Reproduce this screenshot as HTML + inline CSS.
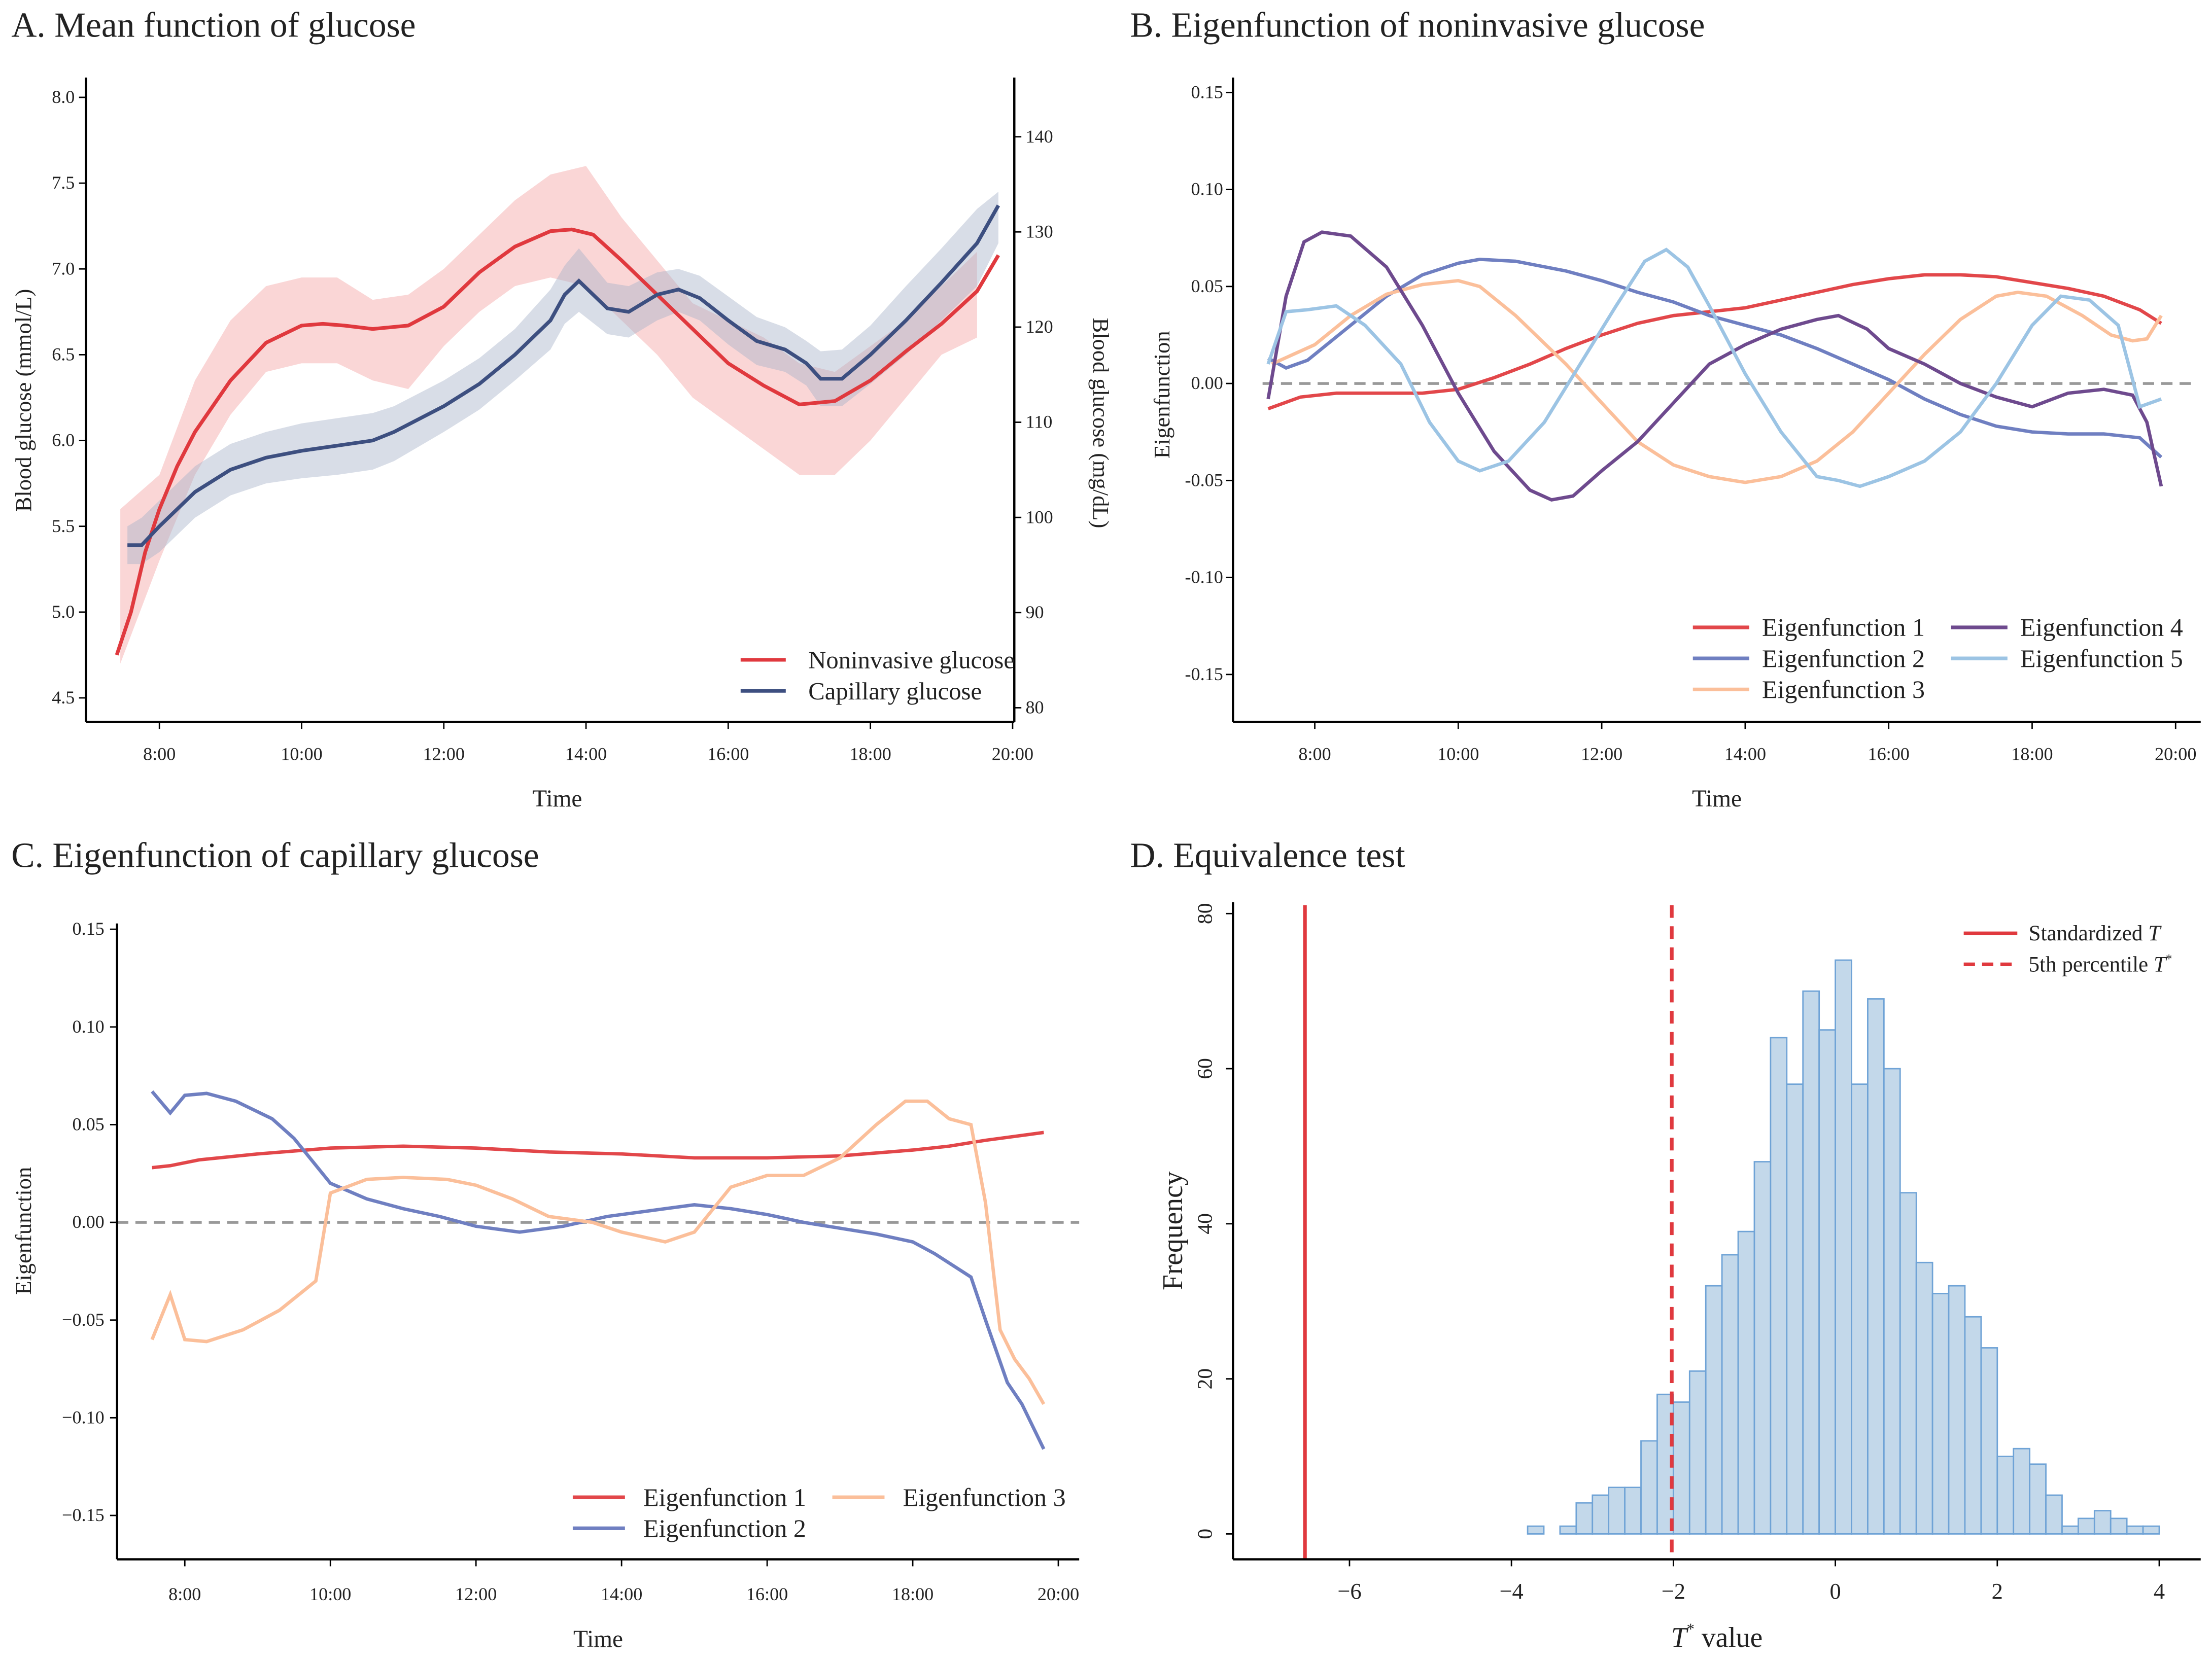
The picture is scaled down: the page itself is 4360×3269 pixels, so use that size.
<!DOCTYPE html>
<html><head><meta charset="utf-8"><style>
html,body{margin:0;padding:0;background:#fff}
svg{display:block}
text{font-family:"Liberation Serif",serif;fill:#222}
</style></head><body>
<svg id="fig" width="4360" height="3269" viewBox="0 0 1568 1176" preserveAspectRatio="none" xmlns="http://www.w3.org/2000/svg"></svg>
<script>
// ===== Panel A data =====
const aNonT=[7.4,7.6,7.8,8.0,8.25,8.5,9.0,9.5,10,10.3,10.6,11,11.5,12,12.5,13,13.5,13.8,14.1,14.5,15,15.5,16,16.5,17,17.5,18,18.5,19,19.5,19.8];
const aNonV=[4.75,5.0,5.35,5.6,5.85,6.05,6.35,6.57,6.67,6.68,6.67,6.65,6.67,6.78,6.98,7.13,7.22,7.23,7.2,7.05,6.85,6.65,6.45,6.32,6.21,6.23,6.35,6.52,6.68,6.87,7.08];
const aNonBandT=[7.45,8,8.5,9,9.5,10,10.5,11,11.5,12,12.5,13,13.5,14,14.5,15,15.5,16,16.5,17,17.5,18,18.5,19,19.5];
const aNonUp=[5.6,5.8,6.35,6.7,6.9,6.95,6.95,6.82,6.85,7.0,7.2,7.4,7.55,7.6,7.3,7.05,6.8,6.7,6.6,6.45,6.4,6.55,6.7,6.9,7.1];
const aNonLo=[4.7,5.3,5.8,6.15,6.4,6.45,6.45,6.35,6.3,6.55,6.75,6.9,6.95,6.9,6.7,6.5,6.25,6.1,5.95,5.8,5.8,6.0,6.25,6.5,6.6];
const aCapT=[7.55,7.75,8,8.5,9,9.5,10,10.5,11,11.3,12,12.5,13,13.5,13.7,13.9,14.3,14.6,15,15.3,15.6,16,16.4,16.8,17.1,17.3,17.6,18,18.5,19,19.5,19.8];
const aCapV=[5.39,5.39,5.5,5.7,5.83,5.9,5.94,5.97,6.0,6.05,6.2,6.33,6.5,6.7,6.85,6.93,6.77,6.75,6.85,6.88,6.83,6.7,6.58,6.53,6.45,6.36,6.36,6.5,6.7,6.92,7.15,7.37];
const aCapUp=[5.5,5.55,5.65,5.85,5.98,6.05,6.1,6.13,6.16,6.2,6.35,6.48,6.65,6.88,7.02,7.12,6.92,6.9,6.98,7.0,6.96,6.84,6.72,6.66,6.58,6.52,6.53,6.67,6.9,7.12,7.35,7.45];
const aCapLo=[5.28,5.28,5.35,5.55,5.68,5.75,5.78,5.8,5.83,5.88,6.05,6.18,6.35,6.53,6.68,6.75,6.62,6.6,6.7,6.75,6.7,6.56,6.44,6.4,6.32,6.2,6.2,6.33,6.5,6.7,6.9,7.15];
const aYTicks=[4.5,5.0,5.5,6.0,6.5,7.0,7.5,8.0];
const aY2Ticks=[80,90,100,110,120,130,140];
const timeTicks=[8,10,12,14,16,18,20];
// ===== Panel B data =====
const bT1=[7.35,7.8,8.3,9,9.5,10,10.5,11,11.5,12,12.5,13,13.5,14,14.5,15,15.5,16,16.5,17,17.5,18,18.5,19,19.5,19.8];
const bV1=[-0.013,-0.007,-0.005,-0.005,-0.005,-0.003,0.003,0.01,0.018,0.025,0.031,0.035,0.037,0.039,0.043,0.047,0.051,0.054,0.056,0.056,0.055,0.052,0.049,0.045,0.038,0.031];
const bT2=[7.35,7.6,7.9,8.5,9,9.5,10,10.3,10.8,11.5,12,12.5,13,13.5,14,14.5,15,15.5,16,16.5,17,17.5,18,18.5,19,19.5,19.8];
const bV2=[0.013,0.008,0.012,0.03,0.045,0.056,0.062,0.064,0.063,0.058,0.053,0.047,0.042,0.035,0.03,0.025,0.018,0.01,0.002,-0.008,-0.016,-0.022,-0.025,-0.026,-0.026,-0.028,-0.038];
const bT3=[7.4,8,8.5,9,9.5,10,10.3,10.8,11.5,12,12.5,13,13.5,14,14.5,15,15.5,16,16.5,17,17.5,17.8,18.2,18.7,19.1,19.4,19.6,19.8];
const bV3=[0.01,0.02,0.035,0.046,0.051,0.053,0.05,0.035,0.01,-0.01,-0.03,-0.042,-0.048,-0.051,-0.048,-0.04,-0.025,-0.005,0.015,0.033,0.045,0.047,0.045,0.035,0.025,0.022,0.023,0.035];
const bT4=[7.35,7.6,7.85,8.1,8.5,9,9.5,10,10.5,11,11.3,11.6,12,12.5,13,13.5,14,14.5,15,15.3,15.7,16,16.5,17,17.5,18,18.5,19,19.4,19.6,19.8];
const bV4=[-0.008,0.045,0.073,0.078,0.076,0.06,0.03,-0.005,-0.035,-0.055,-0.06,-0.058,-0.045,-0.03,-0.01,0.01,0.02,0.028,0.033,0.035,0.028,0.018,0.01,0.0,-0.007,-0.012,-0.005,-0.003,-0.006,-0.02,-0.053];
const bT5=[7.35,7.6,7.9,8.3,8.7,9.2,9.6,10,10.3,10.7,11.2,11.7,12.2,12.6,12.9,13.2,13.5,14,14.5,15,15.3,15.6,16,16.5,17,17.5,18,18.4,18.8,19.2,19.5,19.8];
const bV5=[0.01,0.037,0.038,0.04,0.03,0.01,-0.02,-0.04,-0.045,-0.04,-0.02,0.01,0.04,0.063,0.069,0.06,0.04,0.005,-0.025,-0.048,-0.05,-0.053,-0.048,-0.04,-0.025,0.0,0.03,0.045,0.043,0.03,-0.012,-0.008];
const efTicks=[-0.15,-0.10,-0.05,0.00,0.05,0.10,0.15];
// ===== Panel C data =====
const cT1=[7.55,7.8,8.2,9,10,11,12,13,14,15,16,17,18,18.5,19,19.8];
const cV1=[0.028,0.029,0.032,0.035,0.038,0.039,0.038,0.036,0.035,0.033,0.033,0.034,0.037,0.039,0.042,0.046];
const cT2=[7.55,7.8,8.0,8.3,8.7,9.2,9.5,10,10.5,11,11.5,12,12.6,13.2,13.8,14.6,15,15.5,16,16.5,17,17.5,18,18.3,18.8,19,19.3,19.5,19.8];
const cV2=[0.067,0.056,0.065,0.066,0.062,0.053,0.043,0.02,0.012,0.007,0.003,-0.002,-0.005,-0.002,0.003,0.007,0.009,0.007,0.004,0.0,-0.003,-0.006,-0.01,-0.016,-0.028,-0.05,-0.082,-0.093,-0.116];
const cT3=[7.55,7.8,8.0,8.3,8.8,9.3,9.8,10.0,10.5,11,11.6,12,12.5,13,13.6,14,14.6,15,15.5,16,16.5,17,17.5,17.9,18.2,18.5,18.8,19.0,19.2,19.4,19.6,19.8];
const cV3=[-0.06,-0.037,-0.06,-0.061,-0.055,-0.045,-0.03,0.015,0.022,0.023,0.022,0.019,0.012,0.003,0.0,-0.005,-0.01,-0.005,0.018,0.024,0.024,0.033,0.05,0.062,0.062,0.053,0.05,0.01,-0.055,-0.07,-0.08,-0.093];
// ===== Panel D data =====
const dBinStart=-3.8, dBinW=0.2;
const dCounts=[1,0,1,4,5,6,6,12,18,17,21,32,36,39,48,64,58,70,65,74,58,69,60,44,35,31,32,28,24,10,11,9,5,1,2,3,2,1,1];
const dXTicks=[-6,-4,-2,0,2,4];
const dYTicks=[0,20,40,60,80];
const dStdT=-6.55, dPct=-2.02;

const svg=document.getElementById('fig');
const NS='http://www.w3.org/2000/svg';
function el(tag,attrs,parent){const e=document.createElementNS(NS,tag);for(const k in attrs)e.setAttribute(k,attrs[k]);(parent||svg).appendChild(e);return e;}
function txt(s,attrs,parent){const e=el('text',attrs,parent);e.textContent=s;return e;}
function pathD(ts,vs,fx,fy){return ts.map((t,i)=>(i?'L':'M')+fx(t).toFixed(2)+','+fy(vs[i]).toFixed(2)).join(' ');}
function fmtTime(h){return h+':00';}
const TITLE=25, TICK=13, LEG=17.5, AX=17;

// ---------- Panel A ----------
const gA=el('g',{});
const axA=t=>113+(t-8)*50.4, ayA=v=>495-(v-4.5)*121.7, ay2A=v=>502-(v-80)*6.75;
txt('A. Mean function of glucose',{x:8,y:26,'font-size':TITLE},gA);
let band=el('path',{d:pathD(aNonBandT,aNonUp,axA,ayA)+' '+pathD(aNonBandT.slice().reverse(),aNonLo.slice().reverse(),axA,ayA).replace('M','L')+'Z',fill:'#f5b5b5','fill-opacity':0.55},gA);

band=el('path',{d:pathD(aCapT,aCapUp,axA,ayA)+' '+pathD(aCapT.slice().reverse(),aCapLo.slice().reverse(),axA,ayA).replace('M','L')+'Z',fill:'#a9b4ca','fill-opacity':0.45},gA);

let ln=el('path',{d:pathD(aNonT,aNonV,axA,ayA),fill:'none',stroke:'#e0393e','stroke-width':2.6},gA);

ln=el('path',{d:pathD(aCapT,aCapV,axA,ayA),fill:'none',stroke:'#3d4f80','stroke-width':2.6},gA);

el('line',{x1:61,y1:55,x2:61,y2:512,stroke:'#000','stroke-width':1.6},gA);
el('line',{x1:719,y1:55,x2:719,y2:512,stroke:'#000','stroke-width':1.6},gA);
el('line',{x1:61,y1:512,x2:719,y2:512,stroke:'#000','stroke-width':1.6},gA);
aYTicks.forEach(v=>{el('line',{x1:56,y1:ayA(v),x2:61,y2:ayA(v),stroke:'#000'},gA);const t=txt(v.toFixed(1),{x:53,y:ayA(v)+4,'font-size':TICK,'text-anchor':'end'},gA);});
aY2Ticks.forEach(v=>{el('line',{x1:719,y1:ay2A(v),x2:724,y2:ay2A(v),stroke:'#000'},gA);const t=txt(v,{x:727,y:ay2A(v)+4,'font-size':TICK},gA);});
timeTicks.forEach(h=>{el('line',{x1:axA(h),y1:512,x2:axA(h),y2:517,stroke:'#000'},gA);const t=txt(fmtTime(h),{x:axA(h),y:539,'font-size':TICK,'text-anchor':'middle'},gA);});
txt('Time',{x:395,y:572,'font-size':AX,'text-anchor':'middle'},gA);
txt('Blood glucose (mmol/L)',{transform:'translate(22,284) rotate(-90)','font-size':16,'text-anchor':'middle'},gA);
txt('Blood glucose (mg/dL)',{transform:'translate(775,300) rotate(90)','font-size':16,'text-anchor':'middle'},gA);
[['Noninvasive glucose','#e0393e',468],['Capillary glucose','#3d4f80',490]].forEach(([l,c,y])=>{const g=el('g',{},gA);el('line',{x1:525,y1:y,x2:557,y2:y,stroke:c,'stroke-width':2.6},g);txt(l,{x:573,y:y+6,'font-size':LEG},g);});

// ---------- Panel B ----------
const gB=el('g',{});
const axB=t=>932+(t-8)*50.85, ayB=v=>272-v*1376;
txt('B. Eigenfunction of noninvasive glucose',{x:801,y:26,'font-size':TITLE},gB);
el('line',{x1:895,y1:272,x2:1558,y2:272,stroke:'#999','stroke-width':2,'stroke-dasharray':'8,5'},gB);
const bSeries=[[bT1,bV1,'#e2474a','Eigenfunction 1'],[bT2,bV2,'#6f7fc1','Eigenfunction 2'],[bT3,bV3,'#fbbf9a','Eigenfunction 3'],[bT4,bV4,'#6e4a8e','Eigenfunction 4'],[bT5,bV5,'#9cc4e4','Eigenfunction 5']];
bSeries.forEach(([t,v,c],i)=>{const p=el('path',{d:pathD(t,v,axB,ayB),fill:'none',stroke:c,'stroke-width':2.4},gB);});
el('line',{x1:874,y1:55,x2:874,y2:512,stroke:'#000','stroke-width':1.6},gB);
el('line',{x1:874,y1:512,x2:1560,y2:512,stroke:'#000','stroke-width':1.6},gB);
efTicks.forEach(v=>{el('line',{x1:869,y1:ayB(v),x2:874,y2:ayB(v),stroke:'#000'},gB);const t=txt(v.toFixed(2),{x:867,y:ayB(v)+4,'font-size':TICK,'text-anchor':'end'},gB);});
timeTicks.forEach(h=>{el('line',{x1:axB(h),y1:512,x2:axB(h),y2:517,stroke:'#000'},gB);const t=txt(fmtTime(h),{x:axB(h),y:539,'font-size':TICK,'text-anchor':'middle'},gB);});
txt('Time',{x:1217,y:572,'font-size':AX,'text-anchor':'middle'},gB);
txt('Eigenfunction',{transform:'translate(829,280) rotate(-90)','font-size':16,'text-anchor':'middle'},gB);
const bLeg=[[1200,445],[1200,467],[1200,489],[1383,445],[1383,467]];
bSeries.forEach(([t,v,c,l],i)=>{const g=el('g',{},gB);const [x,y]=bLeg[i];el('line',{x1:x,y1:y,x2:x+40,y2:y,stroke:c,'stroke-width':2.6},g);txt(l,{x:x+49,y:y+6,'font-size':18},g);});

// ---------- Panel C ----------
const gC=el('g',{});
const axC=t=>131+(t-8)*51.6, ayC=v=>867-v*1386;
txt('C. Eigenfunction of capillary glucose',{x:8,y:615,'font-size':TITLE},gC);
el('line',{x1:83,y1:867,x2:765,y2:867,stroke:'#999','stroke-width':2,'stroke-dasharray':'8,5'},gC);
const cSeries=[[cT1,cV1,'#e2474a','Eigenfunction 1'],[cT2,cV2,'#6f7fc1','Eigenfunction 2'],[cT3,cV3,'#fbbf9a','Eigenfunction 3']];
cSeries.forEach(([t,v,c],i)=>{const p=el('path',{d:pathD(t,v,axC,ayC),fill:'none',stroke:c,'stroke-width':2.4},gC);});
el('line',{x1:83,y1:655,x2:83,y2:1106,stroke:'#000','stroke-width':1.6},gC);
el('line',{x1:83,y1:1106,x2:765,y2:1106,stroke:'#000','stroke-width':1.6},gC);
efTicks.forEach(v=>{el('line',{x1:78,y1:ayC(v),x2:83,y2:ayC(v),stroke:'#000'},gC);const t=txt((v<0?'\u2212'+Math.abs(v).toFixed(2):v.toFixed(2)),{x:74,y:ayC(v)+4,'font-size':TICK,'text-anchor':'end'},gC);});
timeTicks.forEach(h=>{el('line',{x1:axC(h),y1:1106,x2:axC(h),y2:1111,stroke:'#000'},gC);const t=txt(fmtTime(h),{x:axC(h),y:1135,'font-size':TICK,'text-anchor':'middle'},gC);});
txt('Time',{x:424,y:1168,'font-size':AX,'text-anchor':'middle'},gC);
txt('Eigenfunction',{transform:'translate(22,873) rotate(-90)','font-size':16,'text-anchor':'middle'},gC);
const cLeg=[[406,1062],[406,1084],[590,1062]];
cSeries.forEach(([t,v,c,l],i)=>{const g=el('g',{},gC);const [x,y]=cLeg[i];el('line',{x1:x,y1:y,x2:x+37,y2:y,stroke:c,'stroke-width':2.6},g);txt(l,{x:x+50,y:y+6,'font-size':18},g);});

// ---------- Panel D ----------
const gD=el('g',{});
const axD=v=>1301+v*57.4, ayD=v=>1088-v*5.5;
txt('D. Equivalence test',{x:801,y:615,'font-size':TITLE},gD);
dCounts.forEach((c,i)=>{const x0=axD(dBinStart+i*dBinW),x1=axD(dBinStart+(i+1)*dBinW);const r=el('rect',{x:x0,y:ayD(c),width:x1-x0,height:ayD(0)-ayD(c),fill:'#c3d8ea',stroke:'#6fa3d6','stroke-width':1},gD);});
let vl=el('line',{x1:axD(dStdT),y1:642,x2:axD(dStdT),y2:1106,stroke:'#e0393e','stroke-width':2.6},gD);
vl=el('line',{x1:axD(dPct),y1:642,x2:axD(dPct),y2:1106,stroke:'#e0393e','stroke-width':2.6,'stroke-dasharray':'9,6'},gD);
el('line',{x1:874,y1:640,x2:874,y2:1106,stroke:'#000','stroke-width':1.6},gD);
el('line',{x1:874,y1:1106,x2:1560,y2:1106,stroke:'#000','stroke-width':1.6},gD);
dYTicks.forEach(v=>{el('line',{x1:869,y1:ayD(v),x2:874,y2:ayD(v),stroke:'#000'},gD);const t=txt(v,{transform:'translate(859,'+ayD(v)+') rotate(-90)','font-size':15,'text-anchor':'middle'},gD);});
dXTicks.forEach(v=>{el('line',{x1:axD(v),y1:1106,x2:axD(v),y2:1111,stroke:'#000'},gD);const t=txt(v<0?'\u2212'+Math.abs(v):v,{x:axD(v),y:1134,'font-size':16,'text-anchor':'middle'},gD);});
const xt=txt('',{x:1217,y:1168,'font-size':20,'text-anchor':'middle'},gD);xt.innerHTML='<tspan font-style="italic">T</tspan><tspan font-size="11" dy="-9">*</tspan><tspan dy="9"> value</tspan>';
txt('Frequency',{transform:'translate(838,873) rotate(-90)','font-size':20,'text-anchor':'middle'},gD);
let lg=el('g',{},gD);
el('line',{x1:1392,y1:662,x2:1430,y2:662,stroke:'#e0393e','stroke-width':2.6},lg);
let lt=txt('',{x:1438,y:667,'font-size':15.5},lg);lt.innerHTML='Standardized <tspan font-style="italic">T</tspan>';
lg=el('g',{},gD);
el('line',{x1:1392,y1:684,x2:1430,y2:684,stroke:'#e0393e','stroke-width':2.6,'stroke-dasharray':'8,5'},lg);
lt=txt('',{x:1438,y:689,'font-size':15.5},lg);lt.innerHTML='5th percentile <tspan font-style="italic">T</tspan><tspan font-size="9" dy="-6">*</tspan>';
</script>
</body></html>
